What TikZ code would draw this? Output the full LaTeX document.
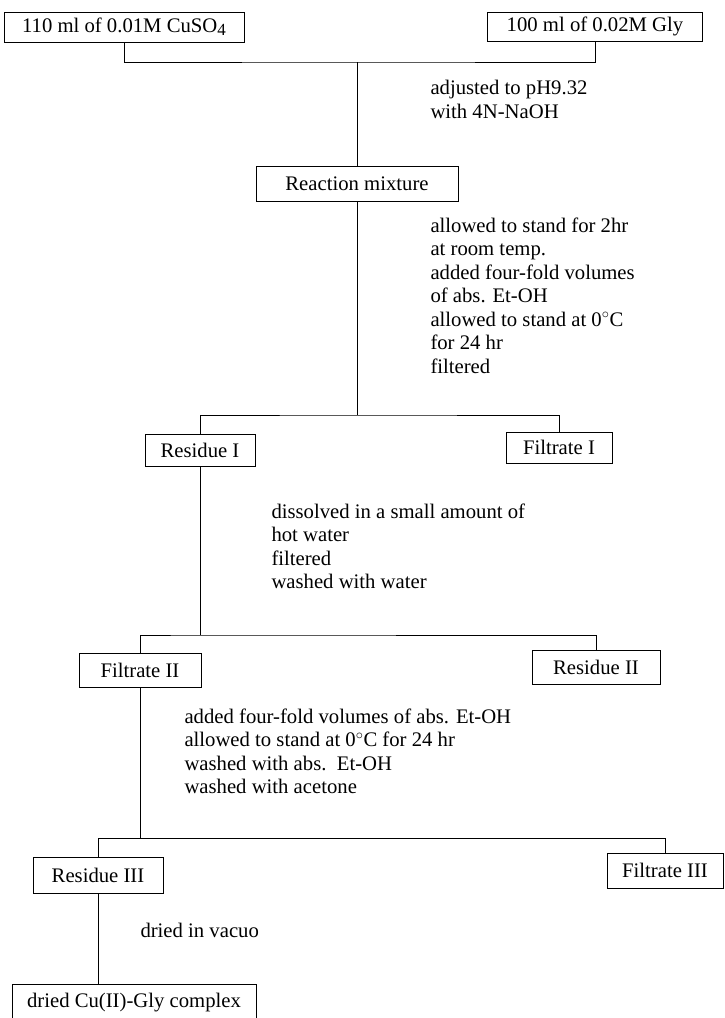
\documentclass[tikz,border=0pt]{standalone}
\usepackage{fontspec}
\setmainfont{Liberation Serif}
\begin{document}
\begin{tikzpicture}[x=1pt,y=-1pt,line width=1pt,
  box/.style={draw,inner sep=0pt,font=\fontsize{20.7}{23.5}\selectfont},
  note/.style={inner sep=0pt,anchor=north west,align=left,font=\fontsize{20.7}{23.5}\selectfont}]
\useasboundingbox (0,0) rectangle (724,1018);
% boxes
\node[box,minimum width=240pt,minimum height=30pt] (cu) at (124,27) {110 ml of 0.01M CuSO\raisebox{-0.3ex}{\fontsize{17}{17}\selectfont 4}};
\node[box,minimum width=215pt,minimum height=29pt] (gly) at (595,26.5) {100 ml of 0.02M Gly};
\node[box,minimum width=202pt,minimum height=35pt] (rm) at (357,183.5) {Reaction mixture};
\node[box,minimum width=110pt,minimum height=32pt] (r1) at (200,450) {Residue I};
\node[box,minimum width=106pt,minimum height=31pt] (f1) at (559,447.5) {Filtrate I};
\node[box,minimum width=122pt,minimum height=34pt] (f2) at (140,670) {Filtrate II};
\node[box,minimum width=128pt,minimum height=34pt] (r2) at (596,667) {Residue II};
\node[box,minimum width=130pt,minimum height=36pt] (r3) at (98,875) {Residue III};
\node[box,minimum width=116pt,minimum height=35pt] (f3) at (665,870.5) {Filtrate III};
\node[box,minimum width=244pt,minimum height=38pt] (dc) at (134,1003) {dried Cu(II)-Gly complex};
% junctions
\coordinate (j1) at (357,62);
\coordinate (j2) at (357,415);
\coordinate (j3) at (200,635);
\coordinate (j4) at (140,838);
% connectors
\draw (cu.south) |- (j1) -| (gly.south);
\draw (j1) -- (rm.north);
\draw (rm.south) -- (j2);
\draw (r1.north) |- (j2) -| (f1.north);
\draw (r1.south) -- (j3);
\draw (f2.north) |- (j3) -| (r2.north);
\draw (f2.south) -- (j4);
\draw (r3.north) |- (j4) -| (f3.north);
\draw (r3.south) -- (r3.south |- dc.north);
% notes
\node[note] (n1) at (430,80) {adjusted to pH9.32\\with 4N-NaOH};
\node[note] (n2) at (430,217) {allowed to stand for 2hr\\at room temp.\\added four-fold volumes\\of abs. Et-OH\\allowed to stand at 0$^{\circ}$C\\for 24 hr\\filtered};
\node[note] (n3) at (271,503) {dissolved in a small amount of\\hot water\\filtered\\washed with water};
\node[note] (n4) at (184,708) {added four-fold volumes of abs. Et-OH\\allowed to stand at 0$^{\circ}$C for 24 hr\\washed with abs.\ \ Et-OH\\washed with acetone};
\node[note] (n5) at (140,923) {dried in vacuo};
\end{tikzpicture}
\end{document}
